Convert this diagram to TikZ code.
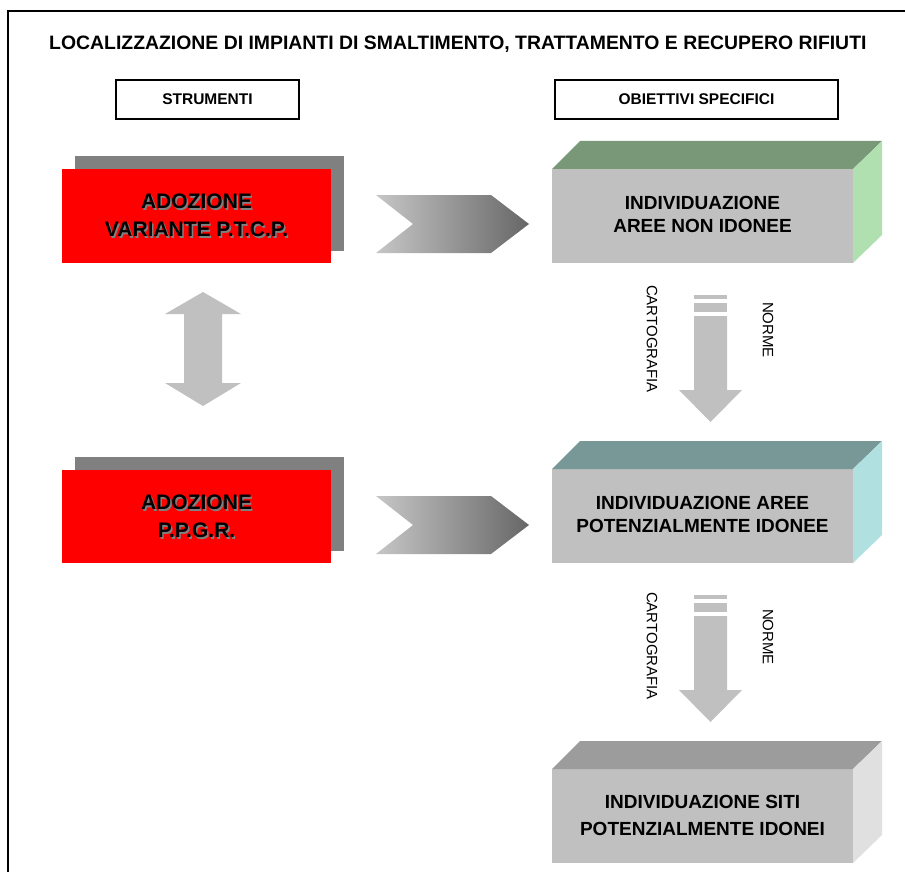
\documentclass[tikz,border=0pt]{standalone}
\usepackage{fontspec}
\setmainfont{Liberation Sans}
\definecolor{grigio}{HTML}{C0C0C0}
\definecolor{ombra}{HTML}{808080}
\definecolor{verdetop}{HTML}{789878}
\definecolor{verdelato}{HTML}{B0E0B0}
\definecolor{azzurrotop}{HTML}{789898}
\definecolor{azzurrolato}{HTML}{B0E0E0}
\definecolor{grigiotop}{HTML}{9C9C9C}
\definecolor{grigiolato}{HTML}{E0E0E0}
\begin{document}
\begin{tikzpicture}[x=1pt, y=-1pt,
    titolo/.style={anchor=west, inner sep=0, font=\fontsize{19.4}{23}\selectfont\bfseries},
    intestazione/.style={draw, line width=1.8, minimum height=39, font=\fontsize{15.5}{18}\selectfont\bfseries},
    rosso/.style={align=center, font=\fontsize{21}{28}\selectfont\bfseries},
    obiettivo/.style={align=center, font=\fontsize{19}{23}\selectfont\bfseries},
    verticale/.style={inner sep=0, font=\fontsize{15}{18}\selectfont}]
  \useasboundingbox (0,0) rectangle (905,872);
  \draw[line width=2] (8,880) -- (8,11) -- (910,11);
  \node[titolo] (titolo) at (49,44) {LOCALIZZAZIONE DI IMPIANTI DI SMALTIMENTO, TRATTAMENTO E RECUPERO RIFIUTI};
  \node[intestazione, minimum width=183] (strumenti) at (207.5,99.5) {STRUMENTI};
  \node[intestazione, minimum width=283] (obiettivi) at (696.5,99.5) {OBIETTIVI SPECIFICI};

  \fill[ombra] (75,156) rectangle (344,251); \fill[red] (62,169) rectangle (331,263);
  \node[rosso, text=ombra] at (198,217) {ADOZIONE\\VARIANTE P.T.C.P.};
  \node[rosso] (ptcp) at (196.5,215.5) {ADOZIONE\\VARIANTE P.T.C.P.};
  \fill[ombra] (75,457) rectangle (344,551); \fill[red] (62,470) rectangle (331,563);
  \node[rosso, text=ombra] at (198,518) {ADOZIONE\\P.P.G.R.};
  \node[rosso] (ppgr) at (196.5,516.5) {ADOZIONE\\P.P.G.R.};

  \fill[grigio] (203,292) -- (241,314) -- (222,314) -- (222,383) -- (241,383) -- (203,406) -- (165,383) -- (184,383) -- (184,314) -- (165,314) -- cycle;

  \shade[left color=grigio!90, right color=ombra!80!black] (376,195) -- (491,195) -- (529,224) -- (491,253) -- (376,253) -- (413,224) -- cycle;
  \shade[left color=grigio!90, right color=ombra!80!black] (376,496) -- (491,496) -- (529,525) -- (491,554) -- (376,554) -- (413,525) -- cycle;

  \fill[grigio] (552,169) rectangle (853,263);
  \fill[verdetop] (552,169) -- (580,141) -- (882,141) -- (853,169) -- cycle;
  \fill[verdelato] (853,169) -- (882,141) -- (882,235) -- (853,263) -- cycle;
  \node[obiettivo] (nonidonee) at (702.5,214) {INDIVIDUAZIONE\\AREE NON IDONEE};

  \fill[grigio] (552,469) rectangle (853,563);
  \fill[azzurrotop] (552,469) -- (580,441) -- (882,441) -- (853,469) -- cycle;
  \fill[azzurrolato] (853,469) -- (882,441) -- (882,535) -- (853,563) -- cycle;
  \node[obiettivo] (aree) at (702.5,514) {INDIVIDUAZIONE AREE\\POTENZIALMENTE IDONEE};

  \fill[grigio] (552,769) rectangle (853,863);
  \fill[grigiotop] (552,769) -- (580,741) -- (882,741) -- (853,769) -- cycle;
  \fill[grigiolato] (853,769) -- (882,741) -- (882,835) -- (853,863) -- cycle;
  \node[obiettivo, font=\fontsize{19}{27}\selectfont\bfseries] (siti) at (702.5,815) {INDIVIDUAZIONE SITI\\POTENZIALMENTE IDONEI};

  \fill[grigio] (694,295) rectangle (727,299); \fill[grigio] (694,303) rectangle (727,312);
  \fill[grigio] (694,316) -- (727,316) -- (727,390) -- (742,390) -- (710.5,422) -- (679,390) -- (694,390) -- cycle;
  \node[verticale, rotate=-90] (carto1) at (652,339) {CARTOGRAFIA};
  \node[verticale, rotate=-90] (norme1) at (768,330) {NORME};

  \fill[grigio] (694,595) rectangle (727,599); \fill[grigio] (694,603) rectangle (727,612);
  \fill[grigio] (694,616) -- (727,616) -- (727,690) -- (742,690) -- (710.5,722) -- (679,690) -- (694,690) -- cycle;
  \node[verticale, rotate=-90] (carto2) at (652,646) {CARTOGRAFIA};
  \node[verticale, rotate=-90] (norme2) at (768,637) {NORME};
\end{tikzpicture}
\end{document}
